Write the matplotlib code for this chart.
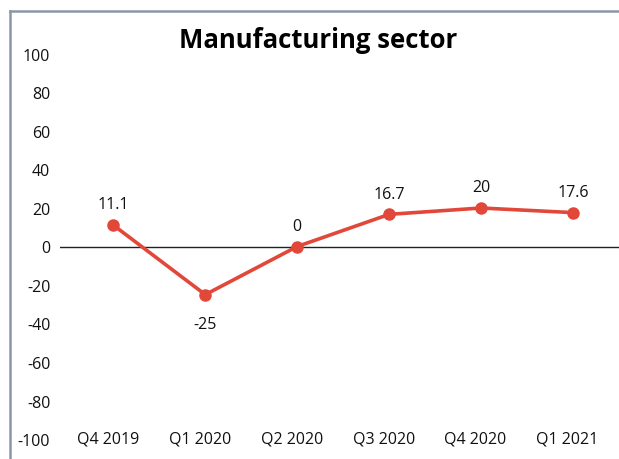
import matplotlib.pyplot as plt
from matplotlib.lines import Line2D

quarters = ['Q4 2019', 'Q1 2020', 'Q2 2020', 'Q3 2020', 'Q4 2020', 'Q1 2021']
values = [11.1, -25, 0, 16.7, 20, 17.6]
label_text = ['11.1', '-25', '0', '16.7', '20', '17.6']
yticks = list(range(-100, 101, 20))

plt.rcParams['font.family'] = ['Open Sans', 'DejaVu Sans']
red = '#e2483a'

fig = plt.figure(figsize=(6.19, 4.6), dpi=100)
ax = fig.add_axes([60 / 619, 20 / 460, 559 / 619, 385 / 460])

x = list(range(len(quarters)))
ax.axhline(0, color='#222222', lw=1.0, zorder=1)
ax.plot(x, values, color=red, lw=2.6, marker='o', ms=8, zorder=3)

for xi, v, t in zip(x, values, label_text):
    off = -21 if v < 0 else 15
    ax.annotate(t, (xi, v), xytext=(0, off), textcoords='offset points',
                ha='center', va='center', fontsize=11.5, color='#111111')

# category labels sit on the bottom gridline level
for xi, q in zip(x, quarters):
    ax.text(xi - 0.06, -100, q, ha='center', va='center', fontsize=11.5, color='#111111')

ax.set_xlim(-0.58, 5.5)
ax.set_ylim(-100, 100)
ax.set_xticks([])
ax.set_yticks(yticks)
ax.set_yticklabels([str(v) for v in yticks], fontsize=11.5, color='#111111')
ax.tick_params(axis='y', length=0, pad=7)
for s in ax.spines.values():
    s.set_visible(False)

fig.text(318 / 619, 1 - 41 / 460, 'Manufacturing sector', ha='center', va='center',
         fontsize=18.5, fontweight='bold')

# frame on the left and top edges
fig.add_artist(Line2D([10 / 619, 10 / 619], [0, 1 - 12 / 460], color='#8a96a6', lw=1.8,
                      transform=fig.transFigure))
fig.add_artist(Line2D([10 / 619, 1], [1 - 12 / 460, 1 - 12 / 460], color='#8a96a6', lw=1.8,
                      transform=fig.transFigure))

fig.savefig('out.png', dpi=100)
